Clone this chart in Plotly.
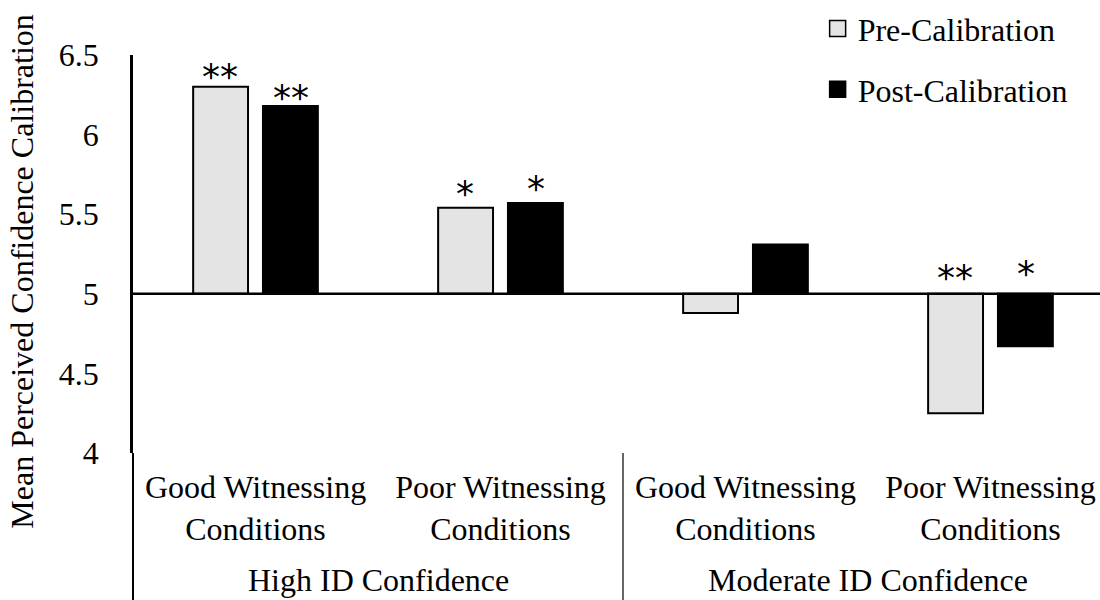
import plotly.graph_objects as go

# Category labels
conditions = ["Good Witnessing<br>Conditions", "Poor Witnessing<br>Conditions",
              "Good Witnessing<br>Conditions", "Poor Witnessing<br>Conditions"]
groups = ["High ID Confidence", "Moderate ID Confidence"]
y_title = "Mean Perceived Confidence Calibration"

# Mean perceived confidence calibration (scale midpoint = 5)
pre_calibration = [6.30, 5.54, 4.88, 4.25]
post_calibration = [6.18, 5.57, 5.31, 4.67]

# Significance markers
pre_sig = ["**", "*", "", "**"]
post_sig = ["**", "*", "", "*"]
pre_sig_shift = [2, 6, 0, 8]
post_sig_shift = [0, 6, 0, 12]

y_ticks = [4, 4.5, 5, 5.5, 6, 6.5]
baseline = 5

FONT = "Liberation Serif, Times New Roman, serif"
FS = 32
x_pos = list(range(len(conditions)))

fig = go.Figure()

fig.add_trace(go.Bar(
    x=x_pos, y=[v - baseline for v in pre_calibration], base=baseline,
    name="Pre-Calibration", marker=dict(color="#e4e4e4", line=dict(color="black", width=2)),
    showlegend=False,
))
fig.add_trace(go.Bar(
    x=x_pos, y=[v - baseline for v in post_calibration], base=baseline,
    name="Post-Calibration", marker=dict(color="black", line=dict(color="black", width=2)),
    showlegend=False,
))

# Legend entries with larger square swatches
fig.add_trace(go.Scatter(
    x=[None], y=[None], mode="markers", name="Pre-Calibration", legendgroup="pre",
    marker=dict(symbol="square", size=16, color="#e4e4e4", line=dict(color="black", width=1.5)),
))
fig.add_trace(go.Scatter(
    x=[None], y=[None], mode="markers", name="Post-Calibration", legendgroup="post",
    marker=dict(symbol="square", size=16, color="black", line=dict(color="black", width=1.5)),
))

# Asterisks above each bar
offset = 0.143
annotations = []
for i in x_pos:
    for vals, sig, shifts, d in ((pre_calibration, pre_sig, pre_sig_shift, -offset),
                                 (post_calibration, post_sig, post_sig_shift, offset)):
        if sig[i]:
            annotations.append(dict(
                x=i + d, y=max(vals[i], baseline), xref="x", yref="y",
                text=sig[i], showarrow=False, yanchor="bottom", yshift=shifts[i] - 14,
                font=dict(family="DejaVu Sans", size=36, color="black"),
            ))

# Group labels under the condition labels
for gi, g in enumerate(groups):
    annotations.append(dict(
        x=0.5 + 2 * gi, y=-0.32, xref="x", yref="paper", text=g, showarrow=False,
        yanchor="middle", font=dict(family=FONT, size=FS, color="black"),
    ))

# Vertical axis title spanning the full chart height
annotations.append(dict(
    x=-0.115, y=0.455, xref="paper", yref="paper", text=y_title, textangle=-90,
    showarrow=False, xanchor="center", yanchor="middle",
    font=dict(family=FONT, size=FS, color="black"),
))

shapes = [
    # horizontal axis line at the midpoint
    dict(type="line", xref="paper", yref="y", x0=0, x1=1, y0=baseline, y1=baseline,
         line=dict(color="black", width=2.5), layer="above"),
    # left border continuing through the label area
    dict(type="line", xref="paper", yref="paper", x0=0, x1=0, y0=0, y1=-0.37,
         line=dict(color="black", width=2)),
    # divider between the two confidence groups
    dict(type="line", xref="x", yref="paper", x0=1.5, x1=1.5, y0=0, y1=-0.37,
         line=dict(color="#333333", width=1.5)),
]

fig.update_layout(
    width=1100, height=600,
    margin=dict(l=133, r=0, t=55, b=147),
    paper_bgcolor="white", plot_bgcolor="white",
    barmode="group", bargap=0.43, bargroupgap=0.214,
    font=dict(family=FONT, size=FS, color="black"),
    legend=dict(x=0.708, y=1.135, xanchor="left", yanchor="top",
                font=dict(family=FONT, size=FS), tracegroupgap=16,
                bgcolor="rgba(0,0,0,0)"),
    annotations=annotations,
    shapes=shapes,
)

fig.update_xaxes(
    range=[-0.5, 3.447], tickvals=x_pos, ticktext=conditions,
    showgrid=False, zeroline=False, showline=False, ticks="",
    tickfont=dict(family=FONT, size=FS), ticklabelstandoff=12,
)
fig.update_yaxes(
    range=[4, 6.5], tickvals=y_ticks, ticktext=[f"{t:g}" for t in y_ticks],
    showgrid=False, zeroline=False, showline=True, linecolor="black", linewidth=2.5,
    ticks="", tickfont=dict(family=FONT, size=FS), ticklabelstandoff=25,
)

fig.write_html("out.html")
